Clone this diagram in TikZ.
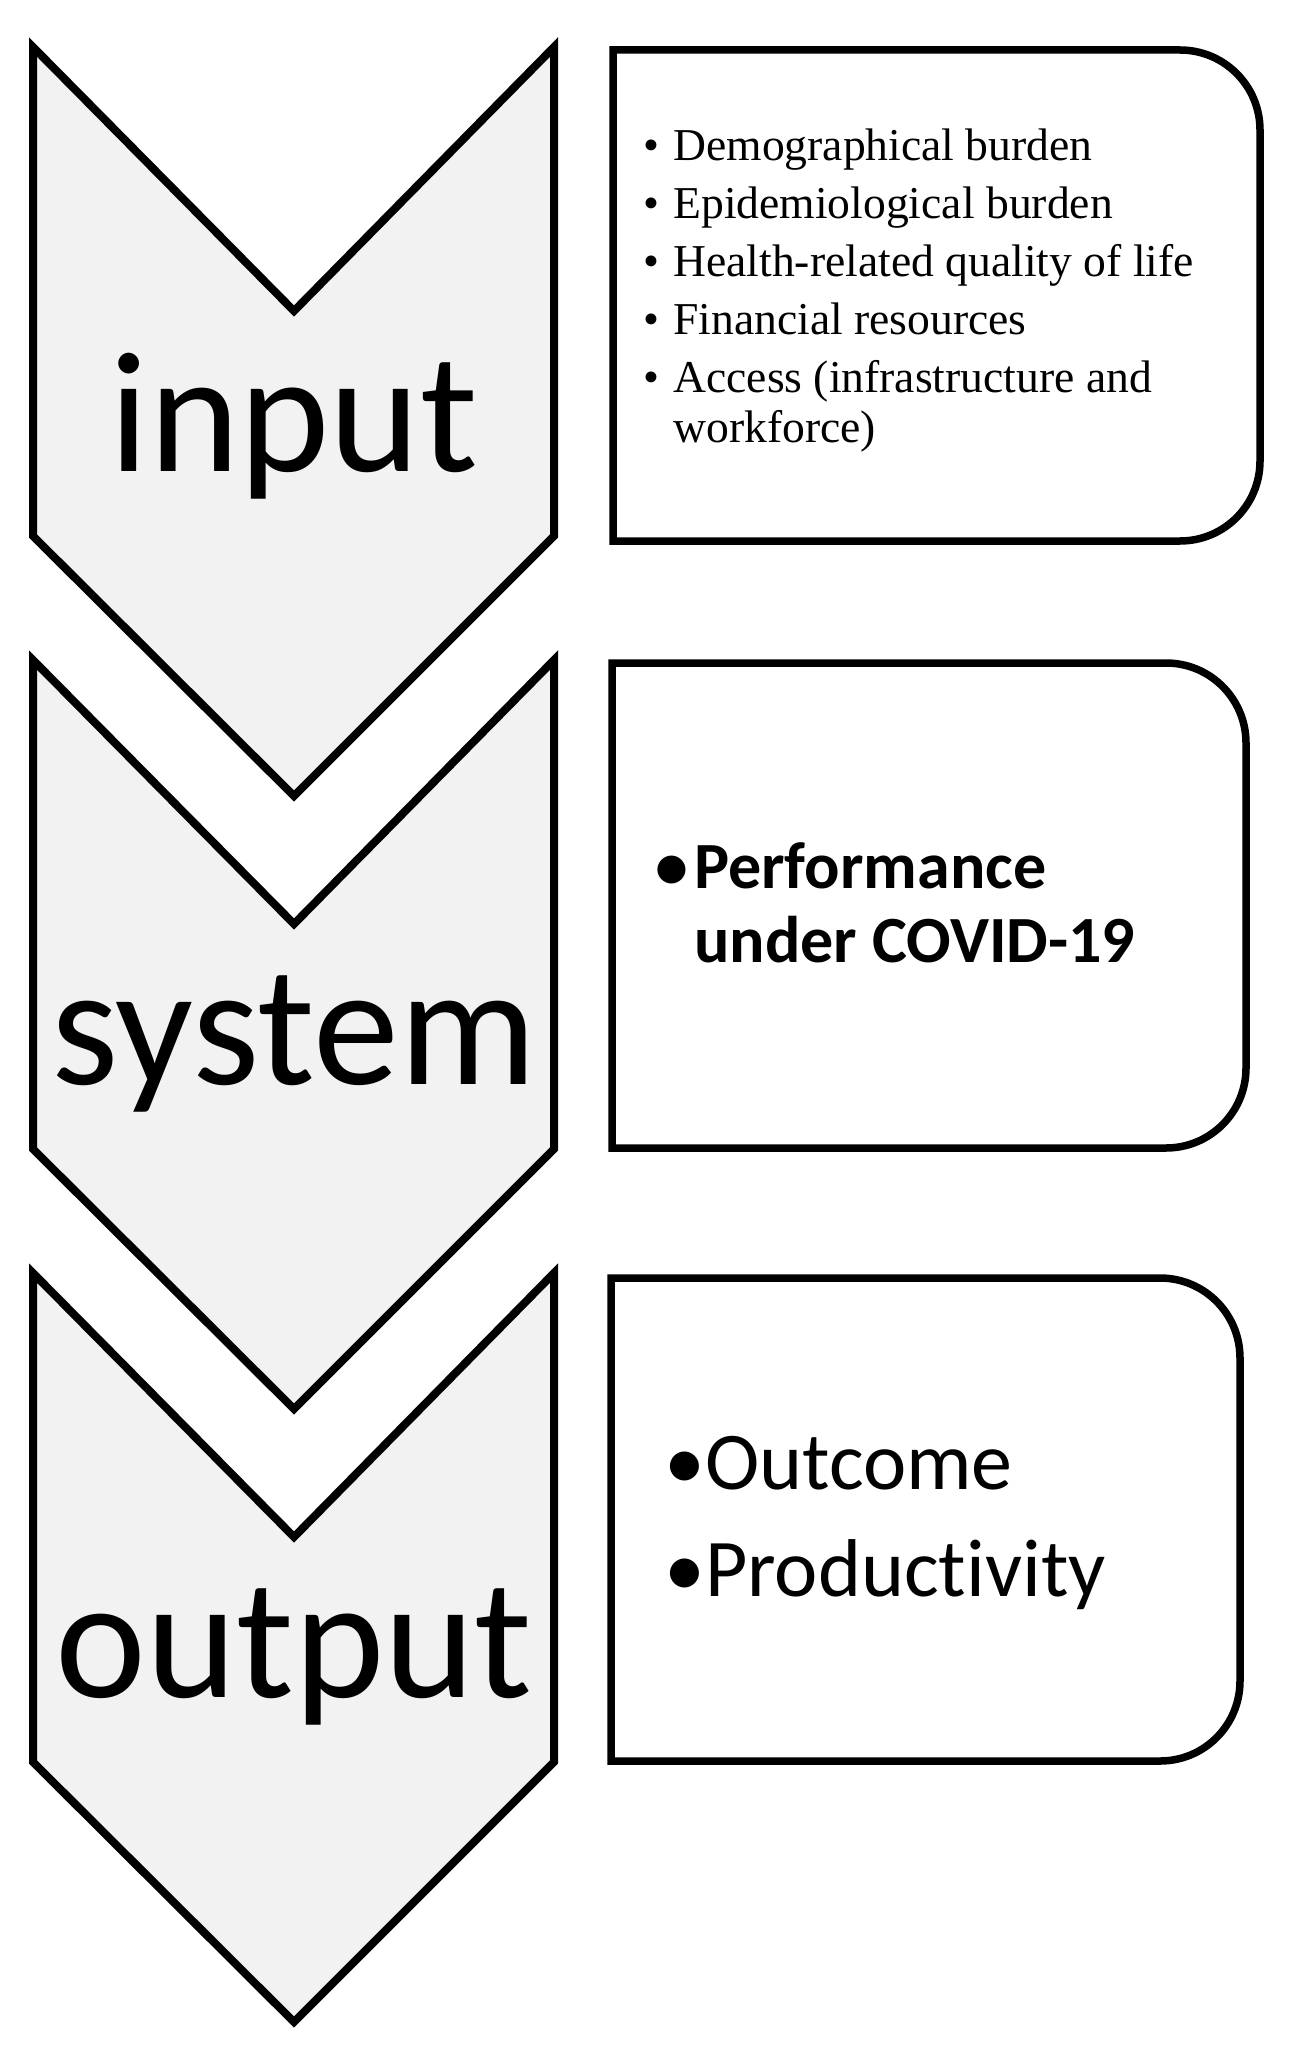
\documentclass[tikz,border=0pt]{standalone}
\usepackage{fontspec}
\setmainfont{Liberation Serif}
\newfontfamily\calibri[Ligatures = NoCommon]{Carlito}
\definecolor{chevgray}{HTML}{F2F2F2}

\begin{document}
\begin{tikzpicture}[x = 0.5pt, y = 0.5pt,
		chev/.style = {fill = chevgray, draw = black, line width = 4pt, line join = miter},
		box/.style = {fill = white, draw = black, line width = 3.75pt, line join = miter},
		bigword/.style = {font = \calibri\fontsize{86}{86}\selectfont, inner sep = 0pt, anchor = base},
		listtext/.style = {inner sep = 0pt, anchor = base west}]
		\useasboundingbox (0, 0) rectangle (1290, -2054);
		%%%%%%%%%%%%%
		\draw [chev] (33, -47) -- (294, -311) -- (554, -47) -- (554, -536) -- (294, -796) -- (33, -536) -- cycle;
		\draw [chev] (33, -660) -- (294, -924) -- (554, -660) -- (554, -1149) -- (294, -1409) -- (33, -1149) -- cycle;
		\draw [chev] (33, -1273) -- (294, -1537) -- (554, -1273) -- (554, -1762) -- (294, -2022) -- (33, -1762) -- cycle;
		%%%%%%%%%%%%%
		\draw [box] (613, -50) -- (1180, -50) arc [start angle = 90, end angle = 0, radius = 80]
			-- (1260, -461) arc [start angle = 0, end angle = -90, radius = 80] -- (613, -541) -- cycle;
		\draw [box] (612, -663) -- (1166, -663) arc [start angle = 90, end angle = 0, radius = 80]
			-- (1246, -1068) arc [start angle = 0, end angle = -90, radius = 80] -- (612, -1148) -- cycle;
		\draw [box] (611, -1278) -- (1160, -1278) arc [start angle = 90, end angle = 0, radius = 80]
			-- (1240, -1681) arc [start angle = 0, end angle = -90, radius = 80] -- (611, -1761) -- cycle;
		%%%%%%%%%%%%%
		\node [bigword] (input) at (294, -471) {input};
		\node [bigword] (system) at (294, -1084) {system};
		\node [bigword] (output) at (294, -1697) {output};
		%%%%%%%%%%%%%
		\node [listtext] (burden) at (643, -161) {\fontsize{22.8}{25}\selectfont
			\begin{tabular}[t]{@{}l@{\hspace{7pt}}l@{}}
				\textbullet & Demographical burden\\[4pt]
				\textbullet & Epidemiological burden\\[4pt]
				\textbullet & Health-related quality of life\\[4pt]
				\textbullet & Financial resources\\[4pt]
				\textbullet & Access (infrastructure and\\
				& workforce)
			\end{tabular}};
		\node [listtext] (perf) at (655, -888) {\calibri\bfseries\fontsize{33}{37}\selectfont
			\begin{tabular}[t]{@{}l@{\hspace{3pt}}l@{}}
				\textbullet & Performance\\
				& under COVID-19
			\end{tabular}};
		\node [listtext] (outc) at (664, -1489) {\calibri\fontsize{41}{53.5}\selectfont
			\begin{tabular}[t]{@{}l@{}l@{}}
				\textbullet & Outcome\\
				\textbullet & Productivity
			\end{tabular}};
\end{tikzpicture}
\end{document}
